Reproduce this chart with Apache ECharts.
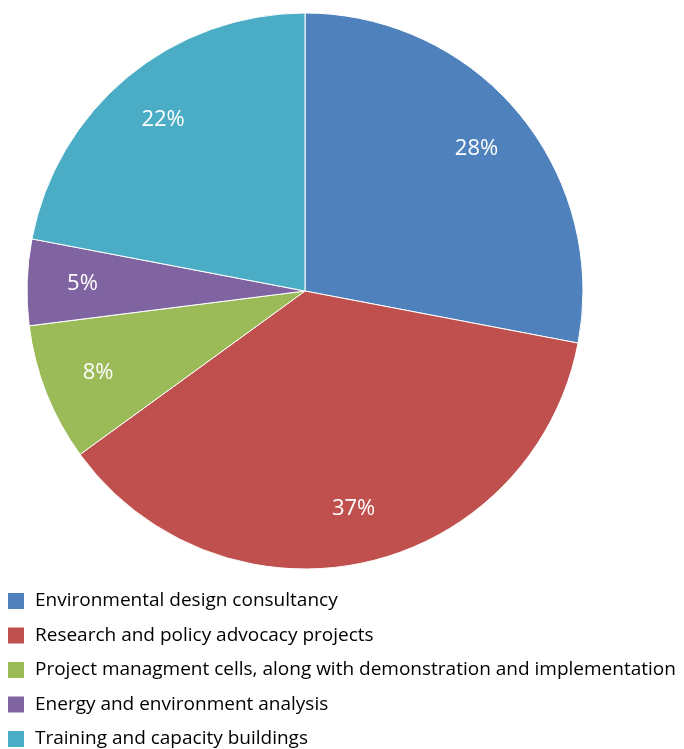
<!DOCTYPE html>
<html>
<head>
<meta charset="utf-8">
<script src="https://cdn.jsdelivr.net/npm/echarts@6/dist/echarts.min.js"></script>
<style>
html,body{margin:0;padding:0;background:#fff;overflow:hidden;}
#chart{width:684px;height:790px;}
</style>
</head>
<body>
<div id="chart"></div>
<script>
const categories = [
  'Environmental design consultancy',
  'Research and policy advocacy projects',
  'Project managment cells, along with demonstration and implementation',
  'Energy and environment analysis',
  'Training and capacity buildings'
];
const values = [28, 37, 8, 5, 22];
const colors = ['#4F81BD', '#C0504D', '#9BBB59', '#8064A2', '#4BACC6'];

const chart = echarts.init(document.getElementById('chart'));
const data = categories.map((n, i) => ({ name: n, value: values[i] }));
const R = 278;
chart.setOption({
  animation: false,
  color: colors,
  legend: {
    orient: 'vertical',
    left: 8,
    top: 591,
    padding: 0,
    itemWidth: 16,
    itemHeight: 16,
    itemGap: 14.5,
    icon: 'rect',
    itemStyle: { borderWidth: 0 },
    data: categories,
    textStyle: { fontFamily: 'Open Sans', fontSize: 19, color: '#000', lineHeight: 20, padding: [0, 0, 0, 6] }
  },
  series: [
    {
      type: 'pie',
      center: [305, 291],
      radius: [0, R],
      startAngle: 90,
      clockwise: true,
      silent: true,
      label: { show: false },
      labelLine: { show: false },
      itemStyle: { borderColor: '#ffffff', borderWidth: 1 },
      data: data
    },
    {
      type: 'pie',
      center: [305, 291],
      radius: [R * 0.58, R],
      startAngle: 90,
      clockwise: true,
      silent: true,
      legendHoverLink: false,
      itemStyle: { color: 'rgba(0,0,0,0)' },
      label: {
        show: true,
        position: 'inside',
        formatter: '{c}%',
        color: '#fff',
        fontFamily: 'Open Sans',
        fontSize: 22
      },
      labelLine: { show: false },
      data: data
    }
  ]
});
</script>
</body>
</html>
